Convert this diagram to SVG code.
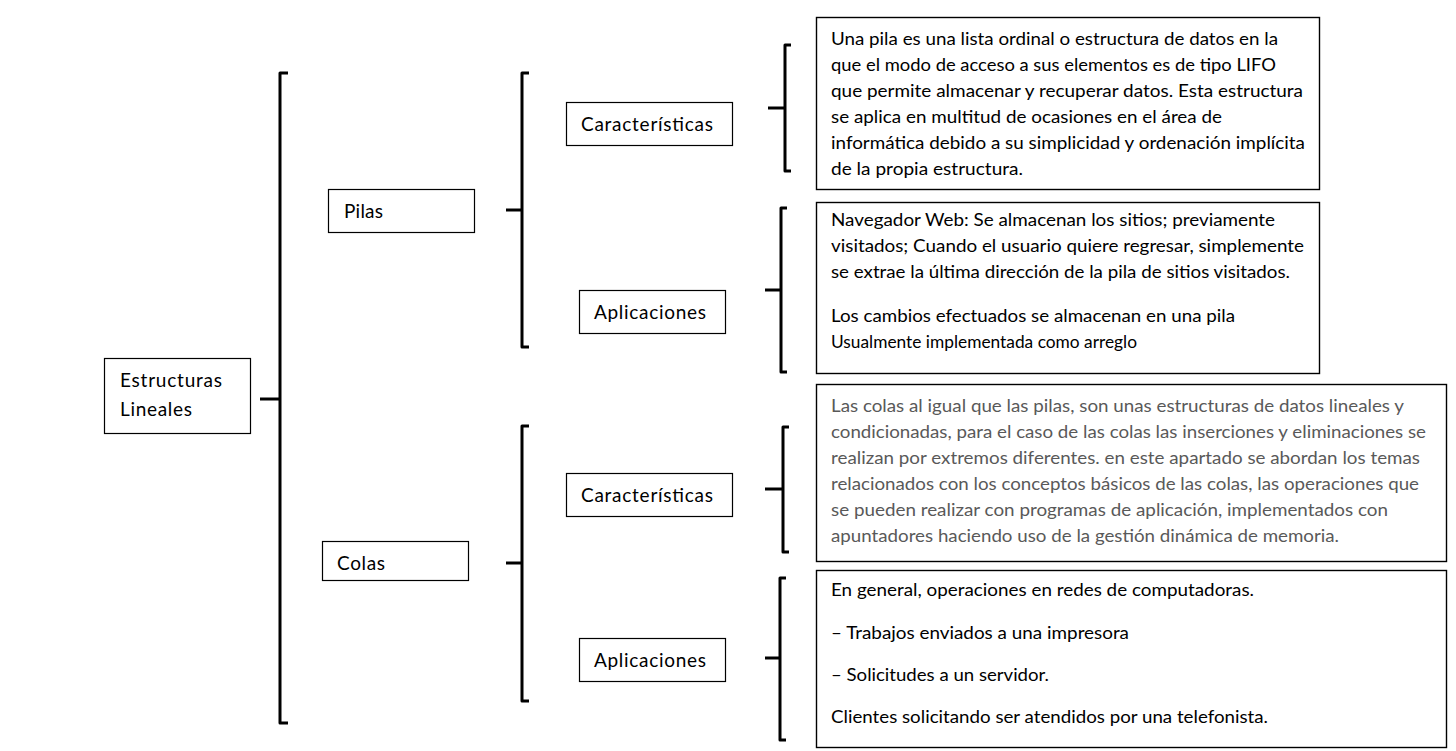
<svg xmlns="http://www.w3.org/2000/svg" width="1456" height="751" viewBox="0 0 1456 751">
<style>
  .box { fill: #ffffff; stroke: #000000; stroke-width: 1.2; }
  .tbox { fill: #ffffff; stroke: #000000; stroke-width: 1.4; }
  .lbl { font-family: Lato, "Liberation Sans", sans-serif; font-size: 19px; fill: #000000; }
  .txt { font-family: Lato, "Liberation Sans", sans-serif; font-size: 18px; fill: #000000; }
  .gray { fill: #595959; }
  .br { fill: none; stroke: #000000; stroke-width: 3; stroke-linecap: butt; stroke-linejoin: round; }
</style>
<rect width="1456" height="751" fill="#ffffff"/>

<g id="connectors">
  <path class="br" d="M288 73 H280 V723 H288"/>
  <path class="br" d="M260 399 H280"/>
  <path class="br" d="M529 73 H522 V347 H529"/>
  <path class="br" d="M506 210 H522"/>
  <path class="br" d="M529 426 H522 V701 H529"/>
  <path class="br" d="M506 563 H522"/>
  <path class="br" d="M791 45 H785 V171 H791"/>
  <path class="br" d="M768 108 H785"/>
  <path class="br" d="M787 208 H781 V372 H787"/>
  <path class="br" d="M765 290 H781"/>
  <path class="br" d="M789 427 H783 V552 H789"/>
  <path class="br" d="M765 489 H783"/>
  <path class="br" d="M786 578 H780 V740 H786"/>
  <path class="br" d="M765 658 H780"/>
</g>

<g id="node-root">
  <rect class="box" x="104.5" y="358.5" width="146" height="75"/>
  <text class="lbl" x="120" y="387" textLength="102">Estructuras</text>
  <text class="lbl" x="120" y="416" textLength="72">Lineales</text>
</g>

<g id="node-pilas">
  <rect class="box" x="328.5" y="189.5" width="146" height="43"/>
  <text class="lbl" x="344" y="218" textLength="39">Pilas</text>
</g>

<g id="node-colas">
  <rect class="box" x="322.5" y="541.5" width="146" height="39"/>
  <text class="lbl" x="337" y="570" textLength="48">Colas</text>
</g>

<g id="node-pilas-caracteristicas">
  <rect class="box" x="566.5" y="102.5" width="166" height="43"/>
  <text class="lbl" x="581" y="131" textLength="132">Características</text>
</g>

<g id="node-pilas-aplicaciones">
  <rect class="box" x="579.5" y="290.5" width="146" height="43"/>
  <text class="lbl" x="594" y="319" textLength="112">Aplicaciones</text>
</g>

<g id="node-colas-caracteristicas">
  <rect class="box" x="566.5" y="473.5" width="166" height="43"/>
  <text class="lbl" x="581" y="502" textLength="132">Características</text>
</g>

<g id="node-colas-aplicaciones">
  <rect class="box" x="579.5" y="638.5" width="146" height="43"/>
  <text class="lbl" x="594" y="667" textLength="112">Aplicaciones</text>
</g>

<g id="node-pilas-caracteristicas-texto">
  <rect class="tbox" x="816.5" y="17.5" width="503" height="172"/>
  <text class="txt" x="831" y="45" textLength="447" lengthAdjust="spacingAndGlyphs">Una pila es una lista ordinal o estructura de datos en la</text>
  <text class="txt" x="831" y="71" textLength="445" lengthAdjust="spacingAndGlyphs">que el modo de acceso a sus elementos es de tipo LIFO</text>
  <text class="txt" x="831" y="97" textLength="472" lengthAdjust="spacingAndGlyphs">que permite almacenar y recuperar datos. Esta estructura</text>
  <text class="txt" x="831" y="123" textLength="391" lengthAdjust="spacingAndGlyphs">se aplica en multitud de ocasiones en el área de</text>
  <text class="txt" x="831" y="149" textLength="474" lengthAdjust="spacingAndGlyphs">informática debido a su simplicidad y ordenación implícita</text>
  <text class="txt" x="831" y="175" textLength="192" lengthAdjust="spacingAndGlyphs">de la propia estructura.</text>
</g>

<g id="node-pilas-aplicaciones-texto">
  <rect class="tbox" x="816.5" y="202.5" width="503" height="171"/>
  <text class="txt" x="831" y="226" textLength="444" lengthAdjust="spacingAndGlyphs">Navegador Web: Se almacenan los sitios; previamente</text>
  <text class="txt" x="831" y="252" textLength="473" lengthAdjust="spacingAndGlyphs">visitados; Cuando el usuario quiere regresar, simplemente</text>
  <text class="txt" x="831" y="278" textLength="459" lengthAdjust="spacingAndGlyphs">se extrae la última dirección de la pila de sitios visitados.</text>
  <text class="txt" x="831" y="322" textLength="404" lengthAdjust="spacingAndGlyphs">Los cambios efectuados se almacenan en una pila</text>
  <text class="txt" x="831" y="348" textLength="306" lengthAdjust="spacingAndGlyphs">Usualmente implementada como arreglo</text>
</g>

<g id="node-colas-caracteristicas-texto">
  <rect class="tbox" x="816.5" y="384.5" width="630" height="177"/>
  <text class="txt gray" x="831" y="412" textLength="573" lengthAdjust="spacingAndGlyphs">Las colas al igual que las pilas, son unas estructuras de datos lineales y</text>
  <text class="txt gray" x="831" y="438" textLength="595" lengthAdjust="spacingAndGlyphs">condicionadas, para el caso de las colas las inserciones y eliminaciones se</text>
  <text class="txt gray" x="831" y="464" textLength="589" lengthAdjust="spacingAndGlyphs">realizan por extremos diferentes. en este apartado se abordan los temas</text>
  <text class="txt gray" x="831" y="490" textLength="588" lengthAdjust="spacingAndGlyphs">relacionados con los conceptos básicos de las colas, las operaciones que</text>
  <text class="txt gray" x="831" y="516" textLength="557" lengthAdjust="spacingAndGlyphs">se pueden realizar con programas de aplicación, implementados con</text>
  <text class="txt gray" x="831" y="542" textLength="508" lengthAdjust="spacingAndGlyphs">apuntadores haciendo uso de la gestión dinámica de memoria.</text>
</g>

<g id="node-colas-aplicaciones-texto">
  <rect class="tbox" x="816.5" y="570.5" width="630" height="177"/>
  <text class="txt" x="831" y="596" textLength="423" lengthAdjust="spacingAndGlyphs">En general, operaciones en redes de computadoras.</text>
  <text class="txt" x="831" y="639" textLength="298" lengthAdjust="spacingAndGlyphs">– Trabajos enviados a una impresora</text>
  <text class="txt" x="831" y="681" textLength="218" lengthAdjust="spacingAndGlyphs">– Solicitudes a un servidor.</text>
  <text class="txt" x="831" y="723" textLength="437" lengthAdjust="spacingAndGlyphs">Clientes solicitando ser atendidos por una telefonista.</text>
</g>
</svg>
